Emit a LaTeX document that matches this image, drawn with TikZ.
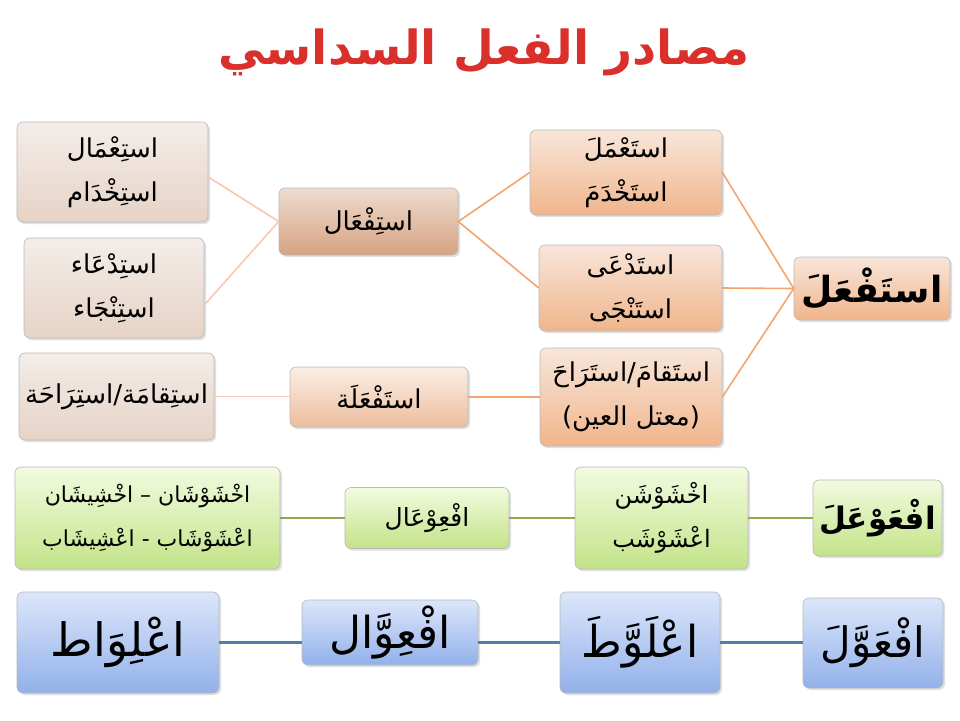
\documentclass[tikz,border=0pt]{standalone}
\usepackage{fontspec}
\usetikzlibrary{shadows}
\TeXXeTstate=1
\newfontfamily\arabicfont[Script=Arabic]{DejaVu Sans}
\newcommand{\AR}[1]{{\arabicfont\beginR #1\endR}}
\definecolor{lineL}{HTML}{F7C9B2}
\definecolor{lineR}{HTML}{F4A46C}
\definecolor{lineG}{HTML}{8FA84F}
\definecolor{lineB}{HTML}{4F7FB0}
\definecolor{titlered}{HTML}{D9302C}
\definecolor{paleT}{HTML}{F3EDE9}
\definecolor{paleB}{HTML}{E6D3C6}
\definecolor{midT}{HTML}{EEDCCF}
\definecolor{midB}{HTML}{D6A382}
\definecolor{peachT}{HTML}{F8E6DA}
\definecolor{peachB}{HTML}{F0B58C}
\definecolor{grnT}{HTML}{F2FBE0}
\definecolor{grnB}{HTML}{C3E388}
\definecolor{bluT}{HTML}{DCE6FA}
\definecolor{bluB}{HTML}{92B1EA}
\tikzset{
 bx/.style={rounded corners=6pt, line width=0.6pt, draw=gray!55, drop shadow={opacity=0.25,shadow xshift=2pt,shadow yshift=-2pt}, align=center, inner sep=2pt},
 pale/.style={bx, top color=paleT, bottom color=paleB},
 mid/.style={bx, top color=midT, bottom color=midB},
 peach/.style={bx, top color=peachT, bottom color=peachB},
 grn/.style={bx, top color=grnT, bottom color=grnB},
 blu/.style={bx, top color=bluT, bottom color=bluB},
 tx/.style={font=\fontsize{26}{44}\selectfont},
 ln/.style={line width=1.6pt},
 lnb/.style={line width=2.2pt}
}
\begin{document}
\begin{tikzpicture}[x=1pt,y=-1pt]
\useasboundingbox[fill=white] (0,0) rectangle (960,720);
\node (title) at (484,52) {\fontsize{47}{50}\selectfont\bfseries\color{titlered}\AR{مصادر الفعل السداسي}};
% left column
\node[pale, tx, minimum width=191, minimum height=100] (L1) at (112.5,172) {\AR{استِعْمَال}\\\AR{استِخْدَام}};
\node[pale, tx, minimum width=180, minimum height=100] (L2) at (114,288) {\AR{استِدْعَاء}\\\AR{استِنْجَاء}};
\node[pale, tx, minimum width=195, minimum height=87] (L3) at (116.5,396.5) {\AR{استِقامَة/استِرَاحَة}};
% middle
\node[mid, tx, minimum width=179, minimum height=67] (M1) at (368.5,221.5) {\AR{استِفْعَال}};
\node[bx, tx, top color=peachT!70!white, bottom color=peachB!70!paleB, minimum width=178, minimum height=60] (M2) at (379,397) {\AR{استَفْعَلَة}};
% right column
\node[peach, tx, minimum width=192, minimum height=85] (R1) at (626,172.5) {\AR{استَعْمَلَ}\\\AR{استَخْدَمَ}};
\node[peach, tx, minimum width=183, minimum height=86] (R2) at (630.5,288) {\AR{استَدْعَى}\\\AR{استَنْجَى}};
\node[peach, tx, minimum width=182, minimum height=98] (R3) at (631,397) {\AR{استَقامَ/استَرَاحَ}\\\AR{(معتل العين)}};
\node[peach, minimum width=156, minimum height=63, font=\fontsize{36}{40}\selectfont\bfseries] (RR) at (872,288.5) {\AR{استَفْعَلَ}};
% green row
\node[grn, minimum width=265, minimum height=102, font=\fontsize{22}{44}\selectfont] (G1) at (147.5,518) {\AR{اخْشَوْشَان – اخْشِيشَان}\\\AR{اعْشَوْشَاب - اعْشِيشَاب}};
\node[grn, minimum width=164, minimum height=61, font=\fontsize{25}{30}\selectfont] (G2) at (427,518) {\AR{افْعِوْعَال}};
\node[grn, minimum width=173, minimum height=102, font=\fontsize{24}{44}\selectfont] (G3) at (661.5,518) {\AR{اخْشَوْشَن}\\\AR{اعْشَوْشَب}};
\node[grn, minimum width=129, minimum height=76, font=\fontsize{31}{36}\selectfont\bfseries] (G4) at (877.5,518) {\AR{افْعَوْعَلَ}};
% blue row
\node[blu, minimum width=202, minimum height=101, font=\fontsize{46}{50}\selectfont] (B1) at (118,642.5) {\AR{اعْلِوَاط}};
\node[blu, minimum width=176, minimum height=65, font=\fontsize{44}{48}\selectfont] (B2) at (390,632.5) {\AR{افْعِوَّال}};
\node[blu, minimum width=160, minimum height=101, font=\fontsize{44}{48}\selectfont] (B3) at (640,642.5) {\AR{اعْلَوَّطَ}};
\node[blu, minimum width=140, minimum height=90, font=\fontsize{42}{46}\selectfont] (B4) at (873,643) {\AR{افْعَوَّلَ}};
% connectors
\draw[ln, lineL] ([yshift=-5pt]L1.east) -- (M1.west);
\draw[ln, lineL] ([yshift=-17pt]L2.east) -- (M1.west);
\draw[ln, lineL] (L3.east) -- (M2.west |- L3.east);
\draw[ln, lineR] (M1.east) -- (R1.west);
\draw[ln, lineR] (M1.east) -- (R2.west);
\draw[ln, lineR] (M2.east) -- (R3.west |- M2.east);
\draw[ln, lineR] (R1.east) -- (RR.west);
\draw[ln, lineR] (R2.east) -- (RR.west);
\draw[ln, lineR] (R3.east) -- (RR.west);
\draw[lnb, lineG] (G1.east) -- (G2.west);
\draw[lnb, lineG] (G2.east) -- (G3.west);
\draw[lnb, lineG] (G3.east) -- (G4.west);
\draw[lnb, lineB] (B1.east) -- (B2.west |- B1.east);
\draw[lnb, lineB] (B2.east |- B1.east) -- (B3.west);
\draw[lnb, lineB] (B3.east) -- (B4.west |- B3.east);
\end{tikzpicture}
\end{document}
